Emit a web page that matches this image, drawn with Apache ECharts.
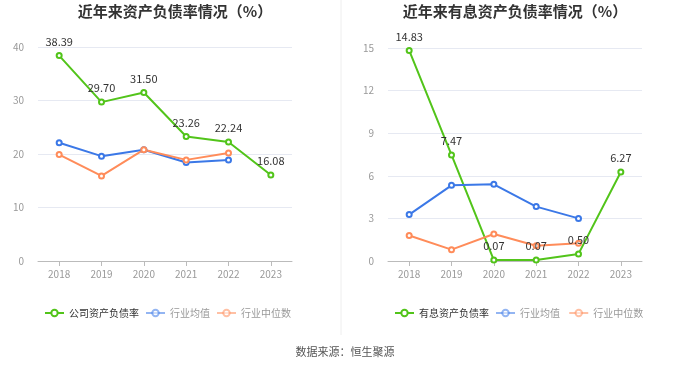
<!DOCTYPE html>
<html><head><meta charset="utf-8">
<script src="https://cdn.jsdelivr.net/npm/echarts@6/dist/echarts.min.js"></script>
<style>html,body{margin:0;padding:0;background:#fff}#c{width:680px;height:367px}</style>
</head><body><div id="c"></div>
<script>
var years = ['2018','2019','2020','2021','2022','2023'];
var leftTitle = '近年来资产负债率情况（%）';
var rightTitle = '近年来有息资产负债率情况（%）';
var companyDebt = [38.39, 29.70, 31.50, 23.26, 22.24, 16.08];
var industryAvgDebt = [22.1, 19.6, 20.8, 18.4, 18.9, null];
var industryMedDebt = [19.9, 15.9, 20.8, 18.9, 20.2, null];
var companyIntDebt = [14.83, 7.47, 0.07, 0.07, 0.50, 6.27];
var industryAvgInt = [3.27, 5.33, 5.4, 3.83, 3.0, null];
var industryMedInt = [1.8, 0.8, 1.9, 1.08, 1.25, null];
var leftTicks = [0, 10, 20, 30, 40];
var rightTicks = [0, 3, 6, 9, 12, 15];

var GREEN = '#52c41a', BLUE = '#3b78e7', ORANGE = '#ff8c5a';
var font = '"Noto Sans CJK SC", sans-serif';

function series(name, data, color, xi, label) {
  return {
    name: name, type: 'line', data: data, xAxisIndex: xi, yAxisIndex: xi,
    symbol: 'emptyCircle', symbolSize: 5, connectNulls: false,
    lineStyle: { color: color, width: 2 },
    itemStyle: { color: color, borderWidth: 1.5 },
    label: label ? { show: true, position: 'top', color: '#333', fontSize: 11, fontFamily: font,
      formatter: function (p) { return p.value.toFixed(2); } } : { show: false },
    emphasis: { disabled: true }, animation: false
  };
}
function xAxis(i) {
  return { type: 'category', gridIndex: i, data: years, boundaryGap: true,
    axisLine: { lineStyle: { color: '#bbb' } }, axisTick: { show: true, alignWithLabel: true, lineStyle: { color: '#bbb' } },
    axisLabel: { color: '#999', fontSize: 10, fontFamily: font, margin: 8 } };
}
function yAxis(i, ticks) {
  return { type: 'value', gridIndex: i, min: ticks[0], max: ticks[ticks.length - 1], interval: ticks[1] - ticks[0],
    axisLine: { show: false }, axisTick: { show: false },
    axisLabel: { color: '#999', fontSize: 10, fontFamily: font, margin: 14 },
    splitLine: { lineStyle: { color: '#e6e9f2' } } };
}
function legendItems(names) {
  return names.map(function (n, i) {
    return i === 0 ? { name: n, textStyle: { color: '#333' } }
      : { name: n, textStyle: { color: '#999' }, itemStyle: { opacity: 0.55 }, lineStyle: { opacity: 0.55 } };
  });
}
var legendBase = { itemWidth: 19, itemHeight: 8, itemGap: 6, top: 303,
  textStyle: { fontSize: 10, color: '#333', fontFamily: font } };
var chart = echarts.init(document.getElementById('c'));
chart.setOption({
  animation: false,
  title: [
    { text: leftTitle, left: 170, top: -1, textAlign: 'center', textStyle: { fontSize: 15, fontWeight: 'bold', color: '#333', fontFamily: font } },
    { text: rightTitle, left: 510, top: -1, textAlign: 'center', textStyle: { fontSize: 15, fontWeight: 'bold', color: '#333', fontFamily: font } },
    { text: '数据来源：恒生聚源', left: 340, top: 341, textAlign: 'center', textStyle: { fontSize: 11, fontWeight: 'normal', color: '#555', fontFamily: font } }
  ],
  grid: [
    { left: 38, width: 254, top: 47, height: 214 },
    { left: 388, width: 254, top: 48, height: 213 }
  ],
  legend: [
    Object.assign({}, legendBase, { left: 39, data: legendItems(['公司资产负债率', '行业均值', '行业中位数']) }),
    Object.assign({}, legendBase, { left: 389, data: legendItems(['有息资产负债率', '行业均值 ', '行业中位数 ']) })
  ],
  graphic: [{ type: 'line', shape: { x1: 341, y1: 0, x2: 341, y2: 335 }, style: { stroke: '#eee', lineWidth: 1 } }],
  xAxis: [xAxis(0), xAxis(1)],
  yAxis: [yAxis(0, leftTicks), yAxis(1, rightTicks)],
  series: [
    series('公司资产负债率', companyDebt, GREEN, 0, true),
    series('行业均值', industryAvgDebt, BLUE, 0, false),
    series('行业中位数', industryMedDebt, ORANGE, 0, false),
    series('有息资产负债率', companyIntDebt, GREEN, 1, true),
    series('行业均值 ', industryAvgInt, BLUE, 1, false),
    series('行业中位数 ', industryMedInt, ORANGE, 1, false)
  ]
});
</script></body></html>
